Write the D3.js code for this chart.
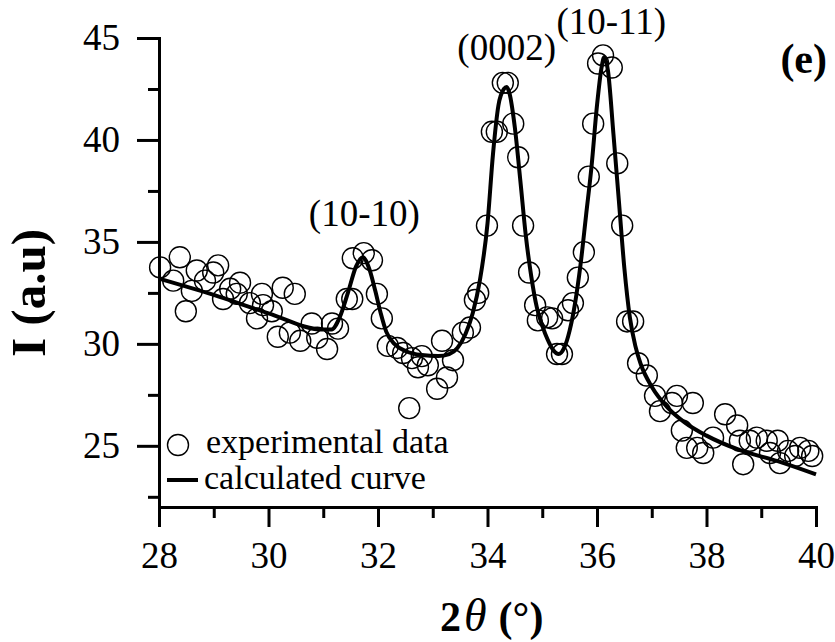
<!DOCTYPE html>
<html>
<head>
<meta charset="utf-8">
<script src="https://cdnjs.cloudflare.com/ajax/libs/d3/7.8.5/d3.min.js"></script>
<style>
  body { margin: 0; background: #fff; }
  text { font-family: "Liberation Serif", "Times New Roman", serif; fill: #000; }
  .axis path, .axis line { stroke: #000; stroke-width: 3; }
  .axis text { font-size: 37px; }
  .dot { fill: none; stroke: #000; stroke-width: 1.4; }
  .line { fill: none; stroke: #000; stroke-width: 4; }
</style>
</head>
<body>
<svg id="draw"></svg>
<script>
// experimental points (2theta, intensity)
var expTheta = [28.02, 28.26, 28.38, 28.49, 28.6, 28.69, 28.84, 28.99, 29.08, 29.17,
  29.3, 29.42, 29.48, 29.66, 29.79, 29.88, 29.9, 30.06, 30.17, 30.26,
  30.39, 30.48, 30.58, 30.79, 30.89, 31.07, 31.16, 31.27, 31.43, 31.53,
  31.54, 31.74, 31.89, 31.98, 32.07, 32.18, 32.35, 32.46, 32.57, 32.62,
  32.73, 32.8, 32.91, 33.08, 33.17, 33.26, 33.37, 33.55, 33.68, 33.77,
  33.83, 33.99, 34.08, 34.17, 34.28, 34.37, 34.47, 34.56, 34.65, 34.76,
  34.87, 34.92, 35.09, 35.18, 35.27, 35.36, 35.47, 35.56, 35.65, 35.76,
  35.85, 35.93, 36.02, 36.11, 36.27, 36.37, 36.46, 36.55, 36.66, 36.75,
  36.91, 37.06, 37.15, 37.37, 37.46, 37.55, 37.64, 37.75, 37.83, 37.94,
  38.12, 38.34, 38.56, 38.61, 38.67, 38.79, 38.92, 39.1, 39.16, 39.3,
  39.34, 39.49, 39.62, 39.71, 39.86, 39.93];
var expIntensity = [33.75, 33.1, 34.25, 31.6, 32.6, 33.6, 33.1, 33.5, 33.85, 32.2,
  32.7, 32.45, 33.0, 32.0, 31.25, 32.45, 31.9, 31.6, 30.35, 32.75,
  30.55, 32.45, 30.15, 31.0, 30.3, 29.75, 31.0, 30.75, 32.2, 32.2,
  34.2, 34.45, 34.1, 32.45, 31.25, 29.9, 29.8, 29.55, 26.85, 29.3,
  28.85, 29.4, 28.95, 27.8, 30.15, 28.35, 29.2, 30.55, 30.8, 32.15,
  32.5, 35.8, 40.4, 40.4, 42.8, 42.8, 40.8, 39.15, 35.8, 33.5,
  31.9, 31.15, 31.3, 31.25, 29.5, 29.5, 31.65, 32.0, 33.25, 34.5,
  38.2, 40.8, 43.75, 44.15, 43.55, 38.85, 35.8, 31.1, 31.1, 29.05,
  28.45, 27.45, 26.7, 27.1, 27.45, 25.75, 24.9, 27.1, 24.9, 24.65,
  25.4, 26.55, 26.0, 25.25, 24.1, 25.25, 25.4, 25.25, 24.65, 25.25,
  24.15, 24.75, 24.5, 24.9, 24.75, 24.5];

// fitted curve
var calcTheta = [28.0, 29.0, 30.0, 31.0, 31.15, 31.3, 31.45, 31.6, 31.72, 31.85,
  31.95, 32.05, 32.15, 32.3, 32.5, 32.8, 33.1, 33.3, 33.45, 33.6,
  33.73, 33.86, 34.0, 34.1, 34.2, 34.3, 34.35, 34.4, 34.5, 34.6,
  34.7, 34.8, 34.9, 35.0, 35.1, 35.2, 35.3, 35.4, 35.5, 35.6,
  35.7, 35.8, 35.9, 36.0, 36.08, 36.13, 36.2, 36.3, 36.4, 36.5,
  36.6, 36.7, 36.8, 37.0, 37.3, 37.6, 38.0, 38.6, 39.3, 40.0];
var calcIntensity = [33.2, 32.4, 31.5, 30.7, 30.7, 31.3, 32.5, 33.8, 34.25, 33.6,
  32.6, 31.5, 30.6, 30.0, 29.65, 29.45, 29.4, 29.5, 29.8, 30.5,
  31.5, 33.1, 35.9, 39.3, 41.7, 42.5, 42.6, 42.3, 40.6, 38.0,
  35.3, 33.3, 31.8, 30.9, 30.2, 29.7, 29.5, 29.8, 30.65, 32.0,
  33.9, 36.3, 38.7, 41.7, 43.5, 44.05, 43.4, 40.3, 37.0, 33.7,
  31.3, 29.9, 29.0, 27.9, 26.85, 26.15, 25.5, 24.8, 24.25, 23.6];

var xTicks = [28, 30, 32, 34, 36, 38, 40];
var xMinor = [29, 31, 33, 35, 37, 39];
var yTicks = [25, 30, 35, 40, 45];
var yMinor = [22.5, 27.5, 32.5, 37.5, 42.5];

var peakNames = ["(10-10)", "(0002)", "(10-11)"];
var peakTheta = [31.75, 34.35, 36.26];
var peakLabelY = [35.8, 43.9, 45.2];

var width = 835, height = 642;
var margin = { top: 38, right: 19, bottom: 135, left: 159 };

var svg = d3.select("#draw")
  .attr("width", width)
  .attr("height", height);

var xScale = d3.scaleLinear()
  .domain([28, 40])
  .range([margin.left, width - margin.right]);

var yScale = d3.scaleLinear()
  .domain([22, 45])
  .range([height - margin.bottom, margin.top]);

// minor ticks first, major axes on top
svg.append("g")
  .attr("class", "axis")
  .attr("transform", "translate(0," + (height - margin.bottom) + ")")
  .call(d3.axisBottom(xScale).tickValues(xMinor).tickSize(11).tickSizeOuter(0).tickFormat(""));

svg.append("g")
  .attr("class", "axis")
  .attr("transform", "translate(" + margin.left + ",0)")
  .call(d3.axisLeft(yScale).tickValues(yMinor).tickSize(11).tickSizeOuter(0).tickFormat(""));

svg.append("g")
  .attr("class", "x axis")
  .attr("transform", "translate(0," + (height - margin.bottom) + ")")
  .call(d3.axisBottom(xScale).tickValues(xTicks).tickSize(20).tickPadding(15).tickSizeOuter(0)
    .tickFormat(d3.format("d")));

svg.append("g")
  .attr("class", "y axis")
  .attr("transform", "translate(" + margin.left + ",0)")
  .call(d3.axisLeft(yScale).tickValues(yTicks).tickSize(22).tickPadding(17).tickSizeOuter(0)
    .tickFormat(d3.format("d")));

svg.selectAll(".axis path").attr("stroke-linecap", "square");

var points = expTheta.map(function(t, i) {
  return { x: t, y: expIntensity[i] };
});

svg.selectAll(".dot")
  .data(points)
  .enter().append("circle")
  .attr("class", "dot")
  .attr("cx", function(d) { return xScale(d.x); })
  .attr("cy", function(d) { return yScale(d.y); })
  .attr("r", 10.5);

var calc = calcTheta.map(function(t, i) {
  return { x: t, y: calcIntensity[i] };
});

var line = d3.line()
  .curve(d3.curveMonotoneX)
  .x(function(d) { return xScale(d.x); })
  .y(function(d) { return yScale(d.y); });

svg.append("path")
  .datum(calc)
  .attr("class", "line")
  .attr("d", line);

// peak labels
svg.selectAll(".peak")
  .data(peakNames)
  .enter().append("text")
  .attr("class", "peak")
  .attr("x", function(d, i) { return xScale(peakTheta[i]); })
  .attr("y", function(d, i) { return yScale(peakLabelY[i]); })
  .attr("text-anchor", "middle")
  .style("font-size", "37px")
  .text(function(d) { return d; });

svg.append("text")
  .attr("x", 827)
  .attr("y", 73)
  .attr("text-anchor", "end")
  .style("font-size", "42px")
  .style("font-weight", "bold")
  .text("(e)");

// legend
svg.append("circle")
  .attr("class", "dot")
  .attr("cx", 178)
  .attr("cy", 445)
  .attr("r", 10.5);

svg.append("text")
  .attr("x", 206)
  .attr("y", 453)
  .style("font-size", "34px")
  .text("experimental data");

svg.append("line")
  .attr("x1", 167).attr("x2", 198)
  .attr("y1", 480).attr("y2", 480)
  .attr("stroke", "#000")
  .attr("stroke-width", 4);

svg.append("text")
  .attr("x", 204)
  .attr("y", 489)
  .style("font-size", "34px")
  .text("calculated curve");

// axis titles
var xt = svg.append("text")
  .attr("x", 440)
  .attr("y", 631)
  .style("font-size", "42px")
  .style("font-weight", "bold");
xt.append("tspan").text("2");
xt.append("tspan").attr("dx", 3).style("font-style", "italic").style("font-weight", "normal")
  .style("font-size", "46px").text("θ");
xt.append("tspan").attr("dx", 12).text("(°)");

svg.append("text")
  .attr("transform", "translate(45,293) rotate(-90)")
  .attr("text-anchor", "middle")
  .style("font-size", "49px")
  .style("font-weight", "bold")
  .text("I (a.u)");
</script>
</body>
</html>
